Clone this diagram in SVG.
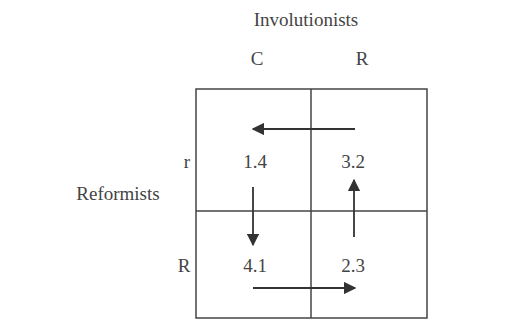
<svg xmlns="http://www.w3.org/2000/svg" width="516" height="324" viewBox="0 0 516 324">
<defs>
<marker id="ah" viewBox="0 0 10 10" refX="9" refY="5" markerWidth="7" markerHeight="7" orient="auto" markerUnits="strokeWidth">
<path d="M0,0 L10,5 L0,10 z" fill="#333"/>
</marker>
<style>
text{font-family:"Liberation Serif","Times New Roman",serif;font-size:19px;fill:#444;text-anchor:middle}
.grid{fill:none;stroke:#444;stroke-width:1.5}
.arr{stroke:#333;stroke-width:1.8;fill:none;marker-end:url(#ah)}
</style>
</defs>
<rect width="516" height="324" fill="#fff"/>
<g id="labels">
<text x="306" y="26">Involutionists</text>
<text x="257" y="65">C</text>
<text x="362" y="65">R</text>
<text x="118" y="200">Reformists</text>
<text x="187" y="168">r</text>
<text x="184" y="272">R</text>
</g>
<g id="grid">
<rect class="grid" x="196" y="89" width="231" height="229"/>
<line class="grid" x1="311" y1="89" x2="311" y2="318"/>
<line class="grid" x1="196" y1="211" x2="427" y2="211"/>
</g>
<g id="cell-rC"><text x="255" y="168">1.4</text></g>
<g id="cell-rR"><text x="353" y="168">3.2</text></g>
<g id="cell-RC"><text x="255" y="272">4.1</text></g>
<g id="cell-RR"><text x="353" y="272">2.3</text></g>
<g id="connectors">
<line class="arr" x1="355" y1="129" x2="253" y2="129"/>
<line class="arr" x1="253" y1="187" x2="253" y2="245"/>
<line class="arr" x1="354" y1="237" x2="354" y2="180"/>
<line class="arr" x1="253" y1="288" x2="355" y2="288"/>
</g>
</svg>
